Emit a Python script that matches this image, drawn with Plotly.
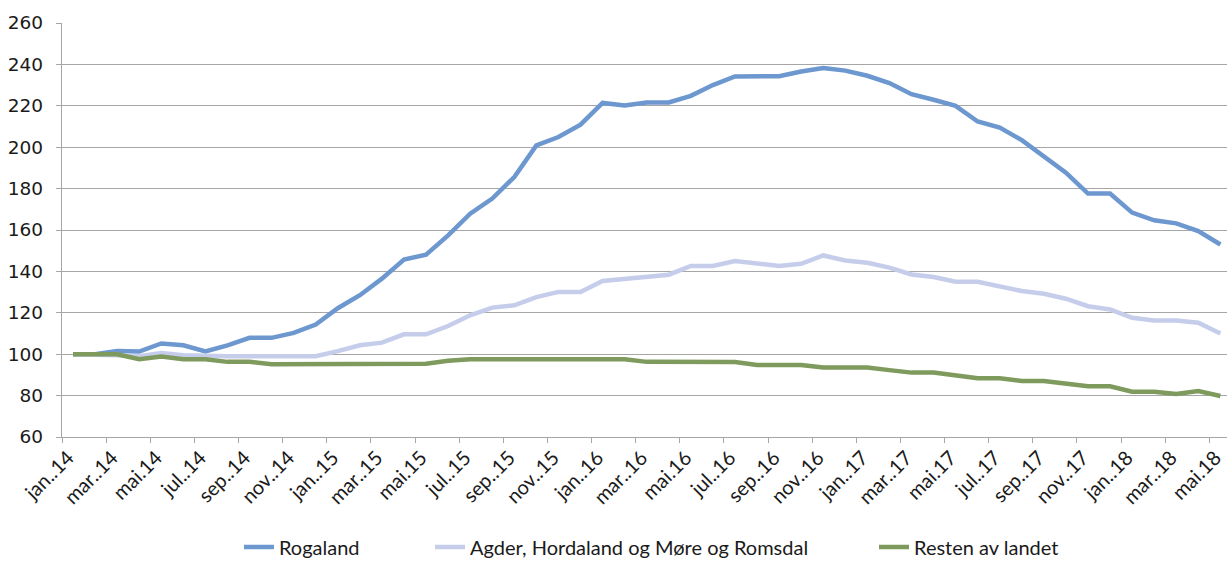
import plotly.graph_objects as go

categories = [
    "jan..14", "feb..14", "mar..14", "apr..14", "mai.14", "jun..14", "jul..14", "aug..14", "sep..14", "okt..14", "nov..14", "des..14",
    "jan..15", "feb..15", "mar..15", "apr..15", "mai.15", "jun..15", "jul..15", "aug..15", "sep..15", "okt..15", "nov..15", "des..15",
    "jan..16", "feb..16", "mar..16", "apr..16", "mai.16", "jun..16", "jul..16", "aug..16", "sep..16", "okt..16", "nov..16", "des..16",
    "jan..17", "feb..17", "mar..17", "apr..17", "mai.17", "jun..17", "jul..17", "aug..17", "sep..17", "okt..17", "nov..17", "des..17",
    "jan..18", "feb..18", "mar..18", "apr..18", "mai.18",
]

rogaland = [
    100, 100, 101.6, 101.3, 105.2, 104.3, 101.3, 104.3, 107.9, 107.9, 110.3, 114.3,
    122.2, 128.5, 136.5, 145.7, 148.1, 157.4, 167.9, 175.2, 185.6, 200.9, 204.9, 210.9,
    221.4, 220.1, 221.6, 221.6, 224.8, 230.0, 234.2, 234.3, 234.3, 236.6, 238.2, 237.0,
    234.5, 231.0, 225.6, 222.9, 220.0, 212.4, 209.5, 203.4, 195.3, 187.7, 177.6, 177.6,
    168.4, 164.7, 163.2, 159.5, 153.0,
]

agder = [
    100, 100, 99.5, 99, 100.6, 99.5, 99, 99, 99, 99, 99, 99,
    101.5, 104.3, 105.6, 109.6, 109.6, 113.6, 118.8, 122.5, 123.6, 127.6, 130.1, 130.1,
    135.4, 136.5, 137.3, 138.4, 142.6, 142.6, 145.0, 143.7, 142.6, 143.7, 147.7, 145.3,
    144.2, 141.8, 138.5, 137.3, 135.0, 135.0, 132.9, 130.5, 129.2, 126.8, 123.2, 121.6,
    117.6, 116.3, 116.3, 115.2, 110.0,
]

resten = [
    100, 100, 100, 97.6, 98.9, 97.6, 97.6, 96.3, 96.3, 95.2, 95.2, 95.2,
    95.2, 95.4, 95.4, 95.4, 95.4, 96.8, 97.6, 97.6, 97.6, 97.6, 97.6, 97.6,
    97.6, 97.6, 96.3, 96.2, 96.2, 96.2, 96.2, 94.8, 94.8, 94.8, 93.6, 93.6,
    93.6, 92.3, 91.1, 91.1, 89.8, 88.4, 88.4, 87.1, 87.1, 85.8, 84.5, 84.5,
    81.9, 81.9, 80.8, 82.2, 79.8,
]

series_names = ["Rogaland", "Agder, Hordaland og Møre og Romsdal", "Resten av landet"]
series_colors = ["#6c97cf", "#c5cdeb", "#7e9a5d"]
legend_ids = ["legend", "legend2", "legend3"]
legend_x = [0.1519, 0.3159, 0.697]

fig = go.Figure()
for name, vals, col, lg in zip(series_names, [rogaland, agder, resten], series_colors, legend_ids):
    fig.add_trace(go.Scatter(
        x=categories, y=vals, mode="lines", name=name, legend=lg,
        line=dict(color=col, width=4.5),
    ))

legend_font = dict(family="Lato", size=20, color="#1a1a1a")
legend_common = dict(orientation="h", xanchor="left", y=-0.266, yanchor="middle",
                     font=legend_font, bgcolor="rgba(0,0,0,0)")

grid_col = "#a6a6a6"
fig.update_layout(
    width=1227, height=561,
    margin=dict(l=62, r=0, t=23, b=124, autoexpand=False),
    plot_bgcolor="white", paper_bgcolor="white",
    showlegend=True,
    legend=dict(x=legend_x[0], **legend_common),
    legend2=dict(x=legend_x[1], **legend_common),
    legend3=dict(x=legend_x[2], **legend_common),
    xaxis=dict(
        type="category", categoryorder="array", categoryarray=categories,
        range=[-0.5, 52.3], dtick=2, tickson="boundaries",
        ticks="outside", ticklen=5, tickcolor=grid_col, tickwidth=1.3,
        showline=True, linecolor=grid_col, linewidth=1.3,
        showgrid=False, tickangle=-45, automargin=False, ticklabelshift=-5,
        tickfont=dict(family="Lato", size=20, color="#1a1a1a"),
    ),
    yaxis=dict(
        range=[60, 260], dtick=20, tick0=60,
        ticks="outside", ticklen=5, tickcolor=grid_col, tickwidth=1.3,
        showline=True, linecolor=grid_col, linewidth=1.3,
        showgrid=True, gridcolor=grid_col, gridwidth=1.3, zeroline=False,
        automargin=False, ticklabelstandoff=9,
        tickfont=dict(family="DejaVu Sans", size=18.5, color="#1a1a1a"),
    ),
)

post = (
    "document.documentElement.style.margin='0';"
    "document.body.style.margin='0';"
    "document.documentElement.style.overflow='hidden';"
    "document.body.style.overflow='hidden';"
)
fig.write_html("out.html", config={"displayModeBar": False}, post_script=post)
